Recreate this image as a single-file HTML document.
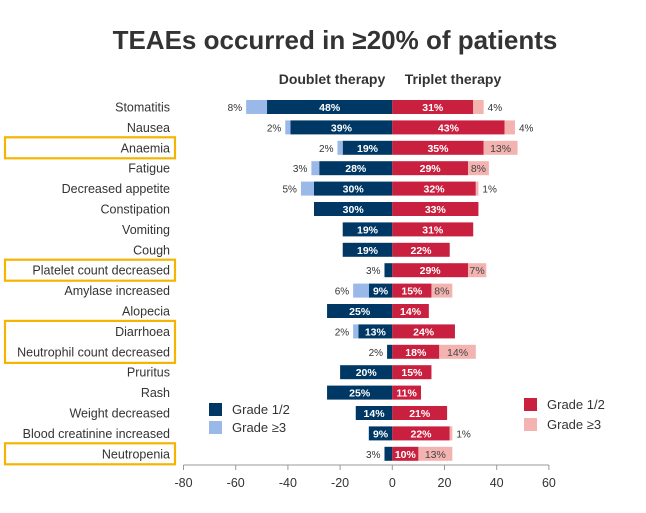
<!DOCTYPE html>
<html><head><meta charset="utf-8"><style>
body{margin:0;background:#fff;width:646px;height:508px;overflow:hidden;font-family:"Liberation Sans",sans-serif}
</style></head><body>
<svg id="c" width="646" height="508" xmlns="http://www.w3.org/2000/svg" font-family="Liberation Sans, sans-serif"></svg>
<script>
const categories=["Stomatitis","Nausea","Anaemia","Fatigue","Decreased appetite","Constipation","Vomiting","Cough","Platelet count decreased","Amylase increased","Alopecia","Diarrhoea","Neutrophil count decreased","Pruritus","Rash","Weight decreased","Blood creatinine increased","Neutropenia"];
const doubletG12=[48,39,19,28,30,30,19,19,3,9,25,13,2,20,25,14,9,3];
const doubletG3=[8,2,2,3,5,0,0,0,0,6,0,2,0,0,0,0,0,0];
const tripletG12=[31,43,35,29,32,33,31,22,29,15,14,24,18,15,11,21,22,10];
const tripletG3=[4,4,13,8,1,0,0,0,7,8,0,0,14,0,0,0,1,13];
const ticks=[-80,-60,-40,-20,0,20,40,60];
const highlighted=["Anaemia","Platelet count decreased","Diarrhoea","Neutrophil count decreased","Neutropenia"];
</script>
<script>
const svg=document.getElementById('c');const NS="http://www.w3.org/2000/svg";
function x(v){return 392.3+v*2.61;}
function y(i){return 107+i*20.4;}
function mk(t,a,txt){const e=document.createElementNS(NS,t);for(const k in a)e.setAttribute(k,a[k]);if(txt!==undefined)e.textContent=txt;svg.appendChild(e);return e;}
let e;
e=mk('text',{x:335,y:49,'text-anchor':'middle','font-size':26,'font-weight':'bold',fill:'#333'},'TEAEs occurred in ≥20% of patients');


e=mk('text',{x:332,y:84,'text-anchor':'middle','font-size':14,'font-weight':'bold',fill:'#333'},'Doublet therapy');


e=mk('text',{x:453,y:84,'text-anchor':'middle','font-size':14,'font-weight':'bold',fill:'#333'},'Triplet therapy');


const H=14;
categories.forEach((c,i)=>{
  const cy=y(i);
  e=mk('text',{x:170,y:cy+4.5,'text-anchor':'end','font-size':12.5,fill:'#333'},c);
  
  
  const d1=doubletG12[i],d3=doubletG3[i],t1=tripletG12[i],t3=tripletG3[i];
  e=mk('rect',{x:x(-d1),y:cy-H/2,width:x(0)-x(-d1),height:H,fill:'#003865'});
  
  
  if(d3>0){e=mk('rect',{x:x(-d1-d3),y:cy-H/2,width:x(-d1)-x(-d1-d3),height:H,fill:'#9ab8e8'});
  
  
  mk('text',{x:x(-d1-d3)-4,y:cy+4,'text-anchor':'end','font-size':10,fill:'#333'},d3+'%');}
  if(d1>3) mk('text',{x:(x(-d1)+x(0))/2,y:cy+4,'text-anchor':'middle','font-size':10.5,'font-weight':'bold',fill:'#fff'},d1+'%');
  else mk('text',{x:x(-d1)-4,y:cy+4,'text-anchor':'end','font-size':10,fill:'#333'},d1+'%');
  e=mk('rect',{x:x(0),y:cy-H/2,width:x(t1)-x(0),height:H,fill:'#c8203e'});
  
  
  mk('text',{x:(x(0)+x(t1))/2,y:cy+4,'text-anchor':'middle','font-size':10.5,'font-weight':'bold',fill:'#fff'},t1+'%');
  if(t3>0){e=mk('rect',{x:x(t1),y:cy-H/2,width:x(t1+t3)-x(t1),height:H,fill:'#f3b3b0'});
  
  
  if(t3>=7) mk('text',{x:(x(t1)+x(t1+t3))/2,y:cy+4,'text-anchor':'middle','font-size':10.5,fill:'#444'},t3+'%');
  else mk('text',{x:x(t1+t3)+4,y:cy+4,'font-size':10,fill:'#333'},t3+'%');}
  if(highlighted.includes(c)&&!(c==="Neutrophil count decreased")){
    const h=c==="Diarrhoea"?42:21;
    e=mk('rect',{x:5,y:cy-10.5,width:170,height:h,fill:'none',stroke:'#f5b400','stroke-width':2.2});
    
    
  }
});
e=mk('line',{x1:x(-80),x2:x(60),y1:465,y2:465,stroke:'#999'});


ticks.forEach(t=>{mk('line',{x1:x(t),x2:x(t),y1:465,y2:470,stroke:'#999'});
 e=mk('text',{x:x(t),y:487,'text-anchor':'middle','font-size':12.5,fill:'#333'},String(t));
 
 });
const leg=[[209,403,'#003865','Grade 1/2'],[209,421,'#9ab8e8','Grade ≥3'],[524,398,'#c8203e','Grade 1/2'],[524,418,'#f3b3b0','Grade ≥3']];
leg.forEach(l=>{mk('rect',{x:l[0],y:l[1],width:13,height:13,fill:l[2]});
 e=mk('text',{x:l[0]+23,y:l[1]+11,'font-size':13,fill:'#333'},l[3]);
 
 });
</script>
</body></html>
